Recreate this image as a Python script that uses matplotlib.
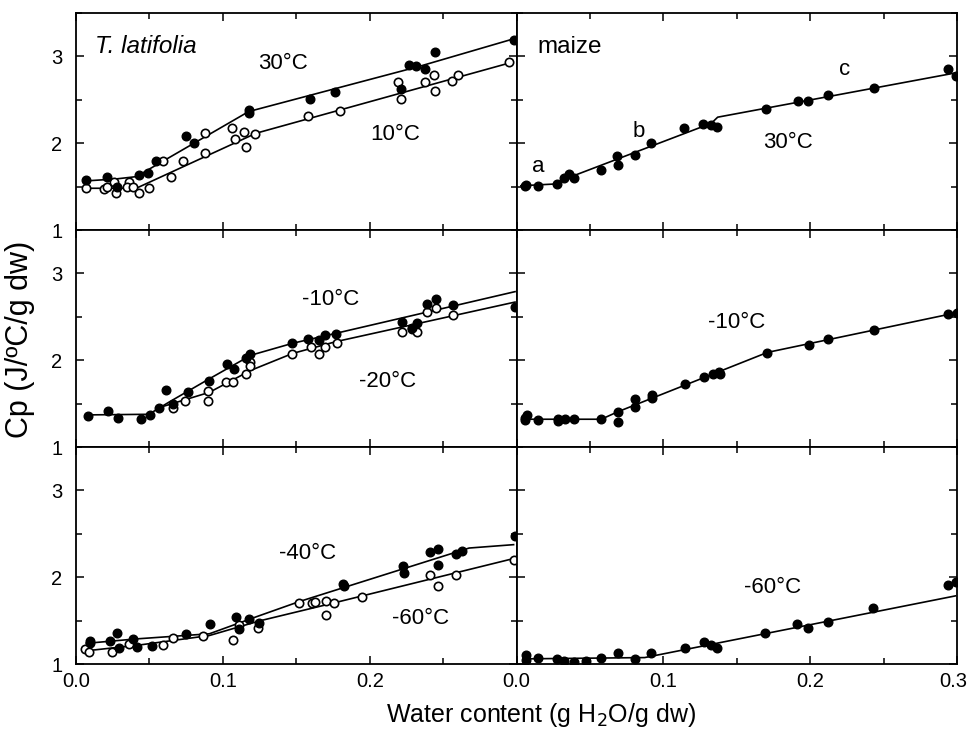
import matplotlib
matplotlib.use("Agg")
from matplotlib import pyplot as plt
from matplotlib.ticker import MultipleLocator
from matplotlib.transforms import ScaledTranslation

plt.rcParams['font.family'] = ['Liberation Sans', 'DejaVu Sans']

# T. latifolia, 30 C (filled) and 10 C (open)
tl30_x = [0.007, 0.021, 0.028, 0.043, 0.049, 0.0545, 0.075, 0.0806, 0.1176, 0.1176,
          0.159, 0.1765, 0.221, 0.227, 0.2314, 0.238, 0.2446, 0.298]
tl30_y = [1.577, 1.615, 1.50, 1.635, 1.66, 1.79, 2.08, 2.0, 2.385, 2.35,
          2.51, 2.585, 2.63, 2.90, 2.885, 2.86, 3.05, 3.19]
tl10_x = [0.007, 0.0187, 0.021, 0.026, 0.0273, 0.0364, 0.035, 0.039, 0.043, 0.0495,
          0.0595, 0.0647, 0.0727, 0.088, 0.088, 0.106, 0.1085, 0.1146, 0.116, 0.122,
          0.158, 0.180, 0.2196, 0.221, 0.238, 0.2438, 0.2446, 0.256, 0.26, 0.295]
tl10_y = [1.48, 1.47, 1.50, 1.558, 1.423, 1.558, 1.50, 1.49, 1.43, 1.48,
          1.79, 1.615, 1.80, 2.115, 1.885, 2.17, 2.046, 2.135, 1.954, 2.11,
          2.31, 2.373, 2.71, 2.51, 2.71, 2.79, 2.596, 2.72, 2.79, 2.94]
tl30_fit_x = [0.006, 0.027, 0.041, 0.1176, 0.2337, 0.2983]
tl30_fit_y = [1.565, 1.588, 1.615, 2.365, 2.885, 3.204]
tl10_fit_x = [0.006, 0.041, 0.1226, 0.2949]
tl10_fit_y = [1.481, 1.481, 2.115, 2.923]

# T. latifolia, -10 C (filled) and -20 C (open)
tlm10_x = [0.008, 0.022, 0.0285, 0.0443, 0.0505, 0.0563, 0.061, 0.066, 0.076, 0.0904,
           0.1026, 0.1076, 0.1158, 0.1187, 0.147, 0.158, 0.1656, 0.1695, 0.177,
           0.2217, 0.229, 0.2325, 0.2389, 0.245, 0.257, 0.299]
tlm10_y = [1.358, 1.416, 1.339, 1.327, 1.366, 1.447, 1.66, 1.494, 1.63, 1.755,
           1.96, 1.90, 2.03, 2.07, 2.20, 2.25, 2.23, 2.29, 2.30,
           2.436, 2.37, 2.43, 2.65, 2.71, 2.64, 2.61]
tlm20_x = [0.066, 0.074, 0.0897, 0.0897, 0.1022, 0.107, 0.116, 0.1187, 0.1187, 0.147,
           0.16, 0.1656, 0.1697, 0.1774, 0.2217, 0.2287, 0.2325, 0.2389, 0.245, 0.257]
tlm20_y = [1.455, 1.53, 1.65, 1.53, 1.75, 1.75, 1.844, 1.98, 1.93, 2.07,
           2.156, 2.07, 2.156, 2.20, 2.32, 2.36, 2.32, 2.55, 2.60, 2.52]
tlm10_fit_x = [0.008, 0.0496, 0.0636, 0.0908, 0.1192, 0.1475, 0.177, 0.299]
tlm10_fit_y = [1.37, 1.377, 1.52, 1.786, 2.058, 2.195, 2.31, 2.79]
tlm20_fit_x = [0.0568, 0.0908, 0.119, 0.1475, 0.177, 0.299]
tlm20_fit_y = [1.455, 1.63, 1.883, 2.078, 2.214, 2.67]

# T. latifolia, -40 C (filled) and -60 C (open)
tlm40_x = [0.0092, 0.0096, 0.0228, 0.0278, 0.029, 0.0387, 0.0414, 0.0516, 0.075, 0.0913,
           0.1089, 0.1112, 0.1175, 0.1244, 0.182, 0.1827, 0.2228, 0.2235, 0.241,
           0.2468, 0.2468, 0.2586, 0.2632, 0.299]
tlm40_y = [1.262, 1.238, 1.262, 1.355, 1.184, 1.289, 1.191, 1.21, 1.348, 1.465,
           1.543, 1.406, 1.523, 1.473, 1.926, 1.902, 2.129, 2.051, 2.293,
           2.324, 2.137, 2.266, 2.305, 2.473]
tlm60_x = [0.0062, 0.0085, 0.0246, 0.036, 0.0595, 0.066, 0.0867, 0.107, 0.1108, 0.1237,
           0.152, 0.1607, 0.163, 0.170, 0.170, 0.176, 0.195, 0.241, 0.2468, 0.2586, 0.298]
tlm60_y = [1.172, 1.141, 1.133, 1.23, 1.223, 1.297, 1.32, 1.277, 1.453, 1.418,
           1.70, 1.707, 1.719, 1.727, 1.563, 1.70, 1.77, 2.031, 1.895, 2.02, 2.20]
tlm40_fit_x = [0.007, 0.0409, 0.0908, 0.1226, 0.152, 0.2677, 0.298]
tlm40_fit_y = [1.238, 1.289, 1.348, 1.543, 1.719, 2.336, 2.375]
tlm60_fit_x = [0.007, 0.0432, 0.0908, 0.1248, 0.1747, 0.298]
tlm60_fit_y = [1.152, 1.219, 1.328, 1.496, 1.70, 2.215]

# maize, 30 C
mz30_x = [0.0055, 0.0066, 0.0145, 0.0277, 0.0323, 0.036, 0.039, 0.0573, 0.0686, 0.069,
          0.0804, 0.0918, 0.114, 0.127, 0.1327, 0.1368, 0.170, 0.1918, 0.1986, 0.2122,
          0.2436, 0.294, 0.299]
mz30_y = [1.51, 1.515, 1.51, 1.527, 1.604, 1.642, 1.604, 1.69, 1.854, 1.75,
          1.865, 2.0, 2.18, 2.22, 2.21, 2.185, 2.39, 2.49, 2.49, 2.56,
          2.64, 2.85, 2.78]
mz30_fit_x = [0.003, 0.026, 0.0396, 0.1327, 0.137, 0.299]
mz30_fit_y = [1.51, 1.53, 1.63, 2.23, 2.30, 2.81]

# maize, -10 C
mzm10_x = [0.0061, 0.0073, 0.0061, 0.0145, 0.0282, 0.0282, 0.0327, 0.039, 0.0577, 0.069,
           0.069, 0.081, 0.081, 0.0925, 0.0925, 0.115, 0.128, 0.1338, 0.1384, 0.1377,
           0.1709, 0.1993, 0.2122, 0.2436, 0.294, 0.2997]
mzm10_y = [1.336, 1.367, 1.309, 1.309, 1.297, 1.328, 1.32, 1.32, 1.32, 1.40,
           1.29, 1.55, 1.465, 1.60, 1.56, 1.727, 1.805, 1.844, 1.836, 1.867,
           2.078, 2.18, 2.246, 2.344, 2.53, 2.54]
mzm10_fit_x = [0.0043, 0.0577, 0.069, 0.1709, 0.2997]
mzm10_fit_y = [1.32, 1.32, 1.406, 2.09, 2.547]

# maize, -60 C
mzm60_x = [0.0066, 0.0066, 0.0145, 0.0277, 0.0323, 0.039, 0.0475, 0.0573, 0.069, 0.0804,
           0.0918, 0.1145, 0.1275, 0.1327, 0.1368, 0.1695, 0.1913, 0.1986, 0.2118,
           0.243, 0.2936, 0.299]
mzm60_y = [1.105, 1.043, 1.074, 1.055, 1.035, 1.027, 1.035, 1.066, 1.121, 1.055,
           1.129, 1.18, 1.258, 1.219, 1.184, 1.355, 1.465, 1.414, 1.484,
           1.641, 1.914, 1.945]
mzm60_fit_x = [0.0043, 0.0873, 0.299]
mzm60_fit_y = [1.059, 1.074, 1.785]


def filled(ax, x, y):
	ax.plot(x, y, 'o', color='black', ms=6.2, zorder=4)

def hollow(ax, x, y):
	ax.plot(x, y, 'o', mfc='white', mec='black', mew=1.2, ms=6.0, zorder=3)

def fit(ax, x, y):
	ax.plot(x, y, '-', color='black', lw=1.2, zorder=2)

def label(ax, x, y, s):
	ax.text(x, y, s, ha='center', va='baseline', fontsize=16)


fig, axes = plt.subplots(3, 2, figsize=(9.7, 7.4), dpi=100)
fig.subplots_adjust(left=0.0784, right=0.9866, top=0.9824, bottom=0.1027,
                    hspace=0, wspace=0)

ax = axes[0][0]
fit(ax, tl30_fit_x, tl30_fit_y)
fit(ax, tl10_fit_x, tl10_fit_y)
hollow(ax, tl10_x, tl10_y)
filled(ax, tl30_x, tl30_y)
ax.text(0.0126, 3.045, 'T. latifolia', style='italic', fontsize=17.5, va='baseline')
label(ax, 0.141, 2.857, '30°C')
label(ax, 0.2171, 2.038, '10°C')

ax = axes[0][1]
fit(ax, mz30_fit_x, mz30_fit_y)
filled(ax, mz30_x, mz30_y)
ax.text(0.0143, 3.045, 'maize', fontsize=17.5, va='baseline')
label(ax, 0.015, 1.673, 'a')
label(ax, 0.0833, 2.076, 'b')
label(ax, 0.2236, 2.788, 'c')
label(ax, 0.1849, 1.942, '30°C')

ax = axes[1][0]
fit(ax, tlm10_fit_x, tlm10_fit_y)
fit(ax, tlm20_fit_x, tlm20_fit_y)
hollow(ax, tlm20_x, tlm20_y)
filled(ax, tlm10_x, tlm10_y)
label(ax, 0.1736, 2.641, '-10°C')
label(ax, 0.2121, 1.697, '-20°C')

ax = axes[1][1]
fit(ax, mzm10_fit_x, mzm10_fit_y)
filled(ax, mzm10_x, mzm10_y)
label(ax, 0.1497, 2.376, '-10°C')

ax = axes[2][0]
fit(ax, tlm40_fit_x, tlm40_fit_y)
fit(ax, tlm60_fit_x, tlm60_fit_y)
hollow(ax, tlm60_x, tlm60_y)
filled(ax, tlm40_x, tlm40_y)
label(ax, 0.1577, 2.207, '-40°C')
label(ax, 0.2348, 1.465, '-60°C')

ax = axes[2][1]
fit(ax, mzm60_fit_x, mzm60_fit_y)
filled(ax, mzm60_x, mzm60_y)
label(ax, 0.1747, 1.817, '-60°C')

for r in range(3):
	for c in range(2):
		ax = axes[r][c]
		ax.set_xlim(0, 0.3)
		ax.set_ylim(1, 3.5)
		ax.xaxis.set_major_locator(MultipleLocator(0.1))
		ax.xaxis.set_minor_locator(MultipleLocator(0.05))
		ax.yaxis.set_major_locator(MultipleLocator(1))
		ax.yaxis.set_minor_locator(MultipleLocator(0.5))
		ax.tick_params(which='both', direction='in', top=True, right=True,
		               width=1.1, labelsize=14.5)
		ax.tick_params(which='major', length=6)
		ax.tick_params(which='minor', length=4)
		ax.tick_params(axis='y', pad=10)
		ax.tick_params(axis='x', pad=6)
		for sp in ax.spines.values():
			sp.set_linewidth(1.3)
		if c == 1:
			ax.tick_params(labelleft=False)
		if r < 2:
			ax.tick_params(labelbottom=False)
		else:
			ax.set_xticks([0.0, 0.1, 0.2, 0.3])
			if c == 0:
				ax.set_xticklabels(['0.0', '0.1', '0.2', ''])
			else:
				ax.set_xticklabels(['0.0', '0.1', '0.2', '0.3'])
		if c == 0:
			ax.set_yticks([1, 2, 3])
			ax.set_yticklabels(['1', '2', '3'])

# nudge the last tick label so it stays inside the figure
last = axes[2][1].get_xticklabels()[-1]
last.set_transform(last.get_transform() + ScaledTranslation(-3 / 72, 0, fig.dpi_scale_trans))

fig.text(0.021, 0.542, 'Cp (J/ºC/g dw)', rotation=90, ha='center', va='center', fontsize=22)
fig.text(0.558, 0.034, 'Water content (g H$_2$O/g dw)', ha='center', va='center', fontsize=18)

fig.savefig('out.png', dpi=100)
